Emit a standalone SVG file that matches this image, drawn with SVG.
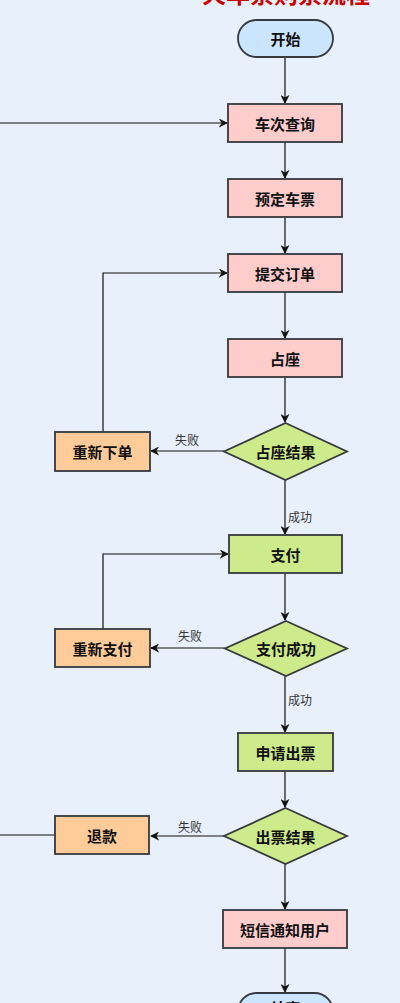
<svg xmlns="http://www.w3.org/2000/svg" width="400" height="1003" viewBox="0 0 400 1003">
<defs>
<marker id="arr" viewBox="0 0 10 10" refX="9" refY="5" markerWidth="9" markerHeight="9" markerUnits="userSpaceOnUse" orient="auto">
<path d="M0,0 L10,5 L0,10 L3,5 Z" fill="#111"/>
</marker>
<style>
.n{stroke:#36393d;stroke-width:1.8}
.pink{fill:#ffcccc}
.green{fill:#cdeb8b}
.orange{fill:#ffcc99}
.blue{fill:#cce5ff}
.t{font-family:"Noto Sans CJK SC","Liberation Sans",sans-serif;font-size:15px;font-weight:bold;fill:#111;text-anchor:middle;dominant-baseline:central}
.l{font-family:"Noto Sans CJK SC","Liberation Sans",sans-serif;font-size:12px;fill:#333;text-anchor:middle;dominant-baseline:central}
.c{fill:none;stroke:#111;stroke-width:1.2}
</style>
</defs>
<rect width="400" height="1003" fill="#e7f0fb"/>
<text x="286" y="3" font-family="Noto Sans CJK SC,Liberation Sans,sans-serif" font-size="24" font-weight="bold" fill="#cc0000" text-anchor="middle">火车票购票流程</text>
<g id="connectors">
<path class="c" d="M285,57 V103" marker-end="url(#arr)"/>
<path class="c" d="M0,123 H227" marker-end="url(#arr)"/>
<path class="c" d="M285,142 V178" marker-end="url(#arr)"/>
<path class="c" d="M285,217 V253" marker-end="url(#arr)"/>
<path class="c" d="M285,292 V338" marker-end="url(#arr)"/>
<path class="c" d="M285,377 V422" marker-end="url(#arr)"/>
<path class="c" d="M224,451 H151" marker-end="url(#arr)"/>
<path class="c" d="M103,432 V273 H227" marker-end="url(#arr)"/>
<path class="c" d="M285,480 V534" marker-end="url(#arr)"/>
<path class="c" d="M285,573 V620" marker-end="url(#arr)"/>
<path class="c" d="M225,648 H151" marker-end="url(#arr)"/>
<path class="c" d="M103,629 V554 H228" marker-end="url(#arr)"/>
<path class="c" d="M285,676 V732" marker-end="url(#arr)"/>
<path class="c" d="M285,771 V807" marker-end="url(#arr)"/>
<path class="c" d="M224,836 H151" marker-end="url(#arr)"/>
<path class="c" d="M55,835 H0"/>
<path class="c" d="M285,864 V909" marker-end="url(#arr)"/>
<path class="c" d="M285,948 V992" marker-end="url(#arr)"/>
<text class="l" x="187" y="439">失败</text>
<text class="l" x="300" y="516">成功</text>
<text class="l" x="190" y="635">失败</text>
<text class="l" x="300" y="699">成功</text>
<text class="l" x="190" y="826">失败</text>
</g>
<g id="start"><rect class="n blue" x="238" y="20" width="95" height="37" rx="18.5"/><text class="t" x="285.5" y="38.5">开始</text></g>
<g id="query"><rect class="n pink" x="228" y="104" width="114" height="38"/><text class="t" x="285" y="123">车次查询</text></g>
<g id="book"><rect class="n pink" x="228" y="179" width="114" height="38"/><text class="t" x="285" y="198">预定车票</text></g>
<g id="submit"><rect class="n pink" x="228" y="254" width="114" height="38"/><text class="t" x="285" y="273">提交订单</text></g>
<g id="seat"><rect class="n pink" x="228" y="339" width="114" height="38"/><text class="t" x="285" y="358">占座</text></g>
<g id="seatResult"><polygon class="n green" points="285.5,423 347,451.5 285.5,480 224,451.5"/><text class="t" x="285.5" y="451.5">占座结果</text></g>
<g id="reorder"><rect class="n orange" x="55" y="432" width="95" height="39"/><text class="t" x="102.5" y="451.5">重新下单</text></g>
<g id="pay"><rect class="n green" x="229" y="535" width="113" height="38"/><text class="t" x="285.5" y="554">支付</text></g>
<g id="payResult"><polygon class="n green" points="286,621 347,648.5 286,676 225,648.5"/><text class="t" x="286" y="648.5">支付成功</text></g>
<g id="repay"><rect class="n orange" x="55" y="629" width="95" height="38"/><text class="t" x="102.5" y="648">重新支付</text></g>
<g id="issue"><rect class="n green" x="238" y="733" width="95" height="38"/><text class="t" x="285.5" y="752">申请出票</text></g>
<g id="issueResult"><polygon class="n green" points="285.5,808 347,836 285.5,864 224,836"/><text class="t" x="285.5" y="836">出票结果</text></g>
<g id="refund"><rect class="n orange" x="55" y="816" width="94" height="38"/><text class="t" x="102" y="835">退款</text></g>
<g id="sms"><rect class="n pink" x="223" y="910" width="124" height="38"/><text class="t" x="285" y="929">短信通知用户</text></g>
<g id="end"><rect class="n blue" x="238" y="993" width="95" height="37" rx="18.5"/><text class="t" x="285.5" y="1007">结束</text></g>
</svg>
